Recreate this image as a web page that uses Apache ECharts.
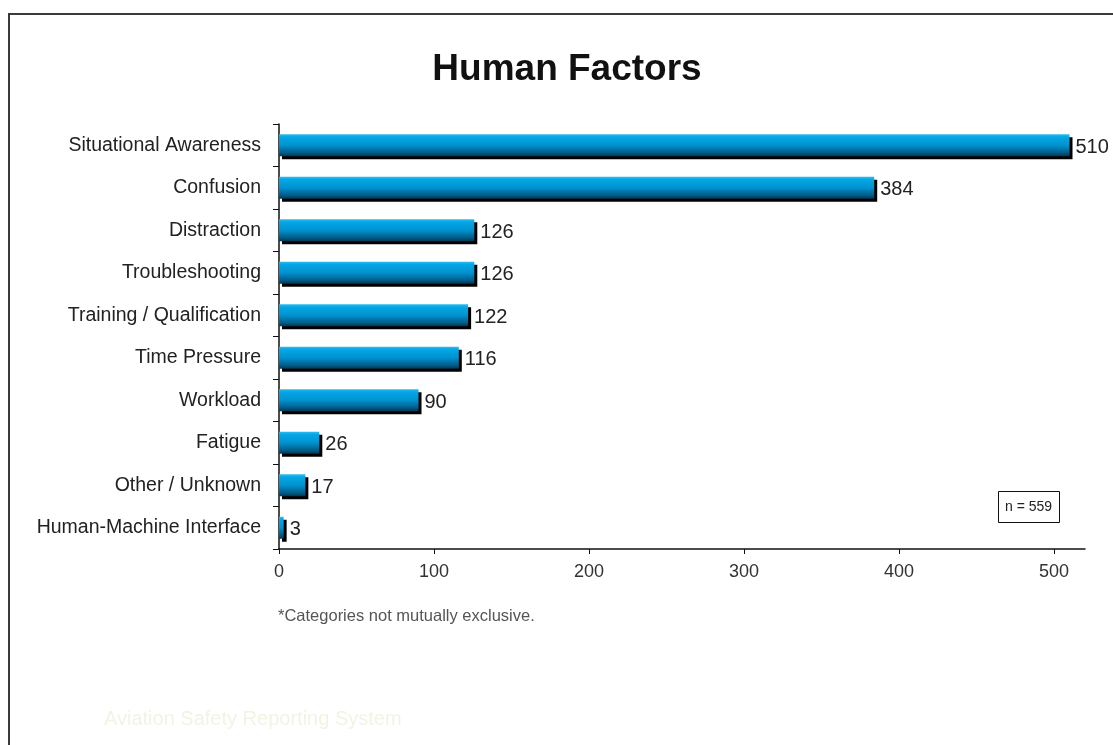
<!DOCTYPE html>
<html>
<head>
<meta charset="utf-8">
<title>Human Factors</title>
<script src="https://cdn.jsdelivr.net/npm/echarts@6/dist/echarts.min.js"></script>
<style>
  html, body { margin: 0; padding: 0; background: #ffffff; }
  #chart { width: 1113px; height: 745px; }
</style>
</head>
<body>
<div id="chart"></div>
<script>
// Report counts per human-factor category (top to bottom)
const categories = [
  'Situational Awareness',
  'Confusion',
  'Distraction',
  'Troubleshooting',
  'Training / Qualification',
  'Time Pressure',
  'Workload',
  'Fatigue',
  'Other / Unknown',
  'Human-Machine Interface'
];
const reportCounts = [510, 384, 126, 126, 122, 116, 90, 26, 17, 3];
const xTickValues = [0, 100, 200, 300, 400, 500];
const totalReports = 559;

const FONT = '"Liberation Sans", Arial, sans-serif';

const chart = echarts.init(document.getElementById('chart'), null, { renderer: 'canvas' });

// Glossy blue bar fill: bright at the top, darker towards the bottom
const barFill = new echarts.graphic.LinearGradient(0, 0, 0, 1, [
  { offset: 0.00, color: '#2dbdf2' },
  { offset: 0.12, color: '#04a7e6' },
  { offset: 0.50, color: '#0092cf' },
  { offset: 0.85, color: '#005b87' },
  { offset: 1.00, color: '#003652' }
]);

chart.setOption({
  backgroundColor: '#ffffff',
  animation: false,
  title: {
    text: 'Human Factors',
    left: 562,
    textAlign: 'center',
    top: 46,
    textStyle: { fontFamily: FONT, fontSize: 37, fontWeight: 'bold', color: '#111111' }
  },
  grid: { left: 279, right: 28, top: 124, bottom: 196, containLabel: false },
  xAxis: {
    type: 'value',
    min: 0,
    max: 520,
    interval: 100,
    splitLine: { show: false },
    axisLine: { show: true, lineStyle: { color: '#111111', width: 1.5 } },
    axisTick: { show: true, length: 5, customValues: xTickValues, lineStyle: { color: '#111111' } },
    axisLabel: {
      customValues: xTickValues,
      margin: 14,
      fontFamily: FONT, fontSize: 18, color: '#333333'
    }
  },
  yAxis: {
    type: 'category',
    data: categories,
    inverse: true,
    axisLine: { show: true, lineStyle: { color: '#111111', width: 1.5 } },
    axisTick: { show: true, length: 6, alignWithLabel: false, lineStyle: { color: '#111111' } },
    axisLabel: { margin: 18, fontFamily: FONT, fontSize: 19.5, color: '#222222' }
  },
  series: [{
    type: 'bar',
    data: reportCounts,
    barWidth: 22,
    itemStyle: {
      color: barFill,
      shadowColor: '#000000',
      shadowBlur: 0,
      shadowOffsetX: 3,
      shadowOffsetY: 3
    },
    label: {
      show: true,
      position: 'right',
      distance: 6,
      offset: [0, 2],
      fontFamily: FONT,
      fontSize: 20,
      color: '#222222'
    }
  }],
  graphic: [
    // Page frame (top and left edges)
    {
      type: 'polyline',
      shape: { points: [[9, 745], [9, 14], [1113, 14]] },
      style: { stroke: '#3a3a3a', lineWidth: 2, fill: null }
    },
    // Sample-size box
    {
      type: 'rect',
      shape: { x: 998.5, y: 491.5, width: 61, height: 31 },
      style: { fill: '#ffffff', stroke: '#111111', lineWidth: 1 }
    },
    {
      type: 'text',
      x: 1028.5, y: 507,
      style: {
        text: 'n = ' + totalReports,
        align: 'center', verticalAlign: 'middle',
        font: '14px ' + FONT, fill: '#222222'
      }
    },
    {
      type: 'text',
      x: 278, y: 616,
      style: {
        text: '*Categories not mutually exclusive.',
        align: 'left', verticalAlign: 'middle',
        font: '16.5px ' + FONT, fill: '#555555'
      }
    },
    {
      type: 'text',
      x: 104, y: 719,
      style: {
        text: 'Aviation Safety Reporting System',
        align: 'left', verticalAlign: 'middle',
        font: '20px ' + FONT, fill: '#f4f2e4'
      }
    }
  ]
});
</script>
</body>
</html>
